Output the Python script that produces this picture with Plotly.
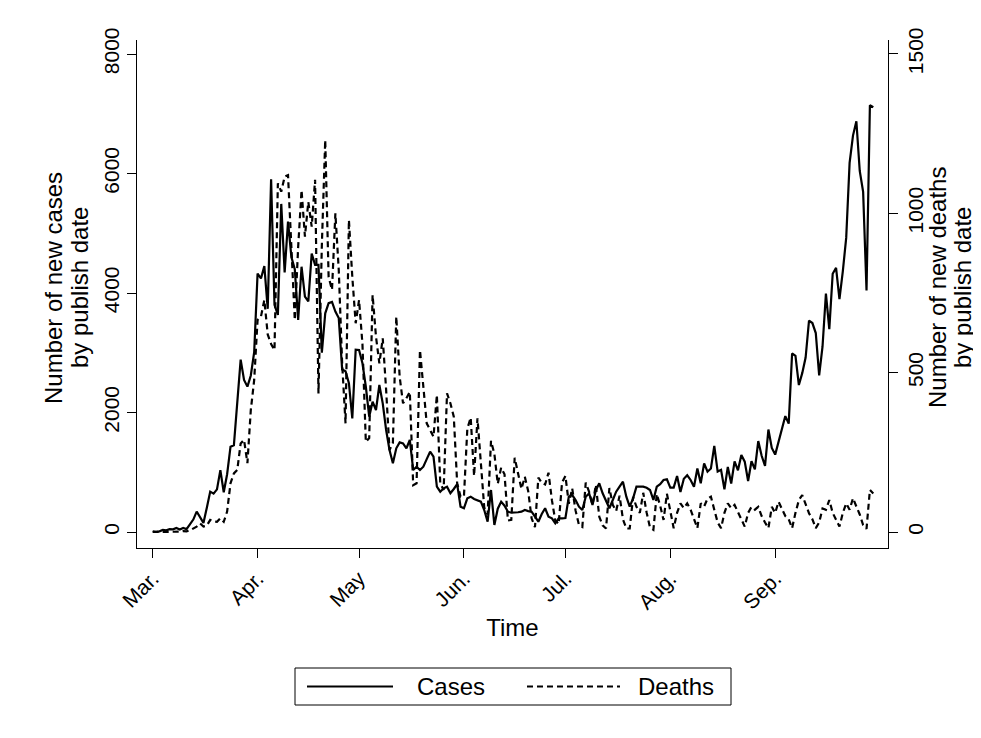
import pandas as pd
import plotly.graph_objects as go

# ---------------- data ----------------
cases_mar = [13, 4, 11, 34, 29, 48, 45, 69, 43, 67, 48, 134, 208, 342, 251, 152, 407, 676, 643, 714,
             1035, 665, 967, 1427, 1452, 2129, 2885, 2546, 2433, 2619, 3009]
cases_apr = [4324, 4244, 4450, 3735, 5903, 3802, 3634, 5491, 4344, 5195, 4600, 4400, 3550, 4440, 3940,
             3860, 4660, 4470, 4470, 3000, 3660, 3830, 3850, 3690, 3580, 2720, 2690, 2490, 1900, 3050]
cases_may = [3046, 2823, 2432, 1930, 2181, 2042, 2460, 2153, 1707, 1372, 1150, 1401, 1500, 1484, 1401,
             1540, 1038, 1093, 1038, 1093, 1220, 1344, 1260, 759, 675, 731, 759, 648, 720, 800, 424]
cases_jun = [397, 563, 591, 552, 530, 508, 368, 172, 703, 117, 390, 508, 440, 340, 323,
             323, 330, 340, 368, 350, 340, 256, 172, 300, 397, 256, 229, 145, 229, 229]
cases_jul = [234, 591, 619, 536, 424, 368, 591, 648, 452, 700, 815, 648, 508, 397, 536,
             675, 760, 842, 591, 424, 564, 759, 760, 759, 740, 703, 536, 759, 800, 870, 882]
cases_aug = [744, 743, 938, 670, 892, 950, 871, 758, 1062, 816, 1148, 1009, 1062, 1441, 1012,
             1040, 713, 1089, 812, 1182, 1033, 1288, 1177, 853, 1184, 1048, 1522, 1276, 1108, 1715, 1406]
cases_sep = [1295, 1508, 1735, 1940, 1813, 2988, 2948, 2460, 2659, 2919, 3539, 3497, 3330, 2621, 3105,
             3991, 3395, 4322, 4422, 3899, 4368, 4926, 6178, 6634, 6874, 6042, 5693, 4044, 7143, 7108]

deaths_mar = [0, 0, 0, 0, 1, 1, 0, 1, 1, 3, 2, 5, 10, 17, 27, 17, 20, 38, 33, 32,
              43, 32, 64, 153, 184, 195, 278, 289, 216, 383, 477]
deaths_apr = [665, 676, 728, 620, 590, 571, 1094, 1068, 1115, 1120, 900, 665, 895, 1073, 927,
              1036, 958, 1105, 435, 900, 1230, 800, 760, 1000, 822, 529, 341, 979, 801, 655]
deaths_may = [728, 590, 283, 295, 744, 613, 529, 608, 446, 257, 280, 676, 487, 404, 420,
              440, 147, 153, 571, 446, 341, 320, 299, 430, 153, 132, 435, 404, 362, 153, 111]
deaths_jun = [111, 324, 359, 176, 357, 204, 77, 55, 286, 245, 151, 202, 181, 36, 38,
              233, 184, 135, 173, 128, 43, 15, 171, 154, 149, 186, 100, 36, 25, 155]
deaths_jul = [176, 89, 137, 67, 22, 16, 155, 126, 85, 148, 48, 21, 11, 138, 85,
              66, 114, 40, 11, 11, 110, 79, 60, 123, 61, 14, 7, 119, 83, 38, 120]
deaths_aug = [65, 12, 60, 90, 75, 90, 70, 40, 12, 90, 80, 105, 111, 70, 30,
              12, 60, 90, 75, 85, 60, 40, 17, 60, 79, 70, 79, 50, 30, 12, 79]
deaths_sep = [60, 95, 70, 50, 40, 12, 60, 100, 116, 90, 59, 40, 12, 30, 74,
              70, 100, 60, 40, 17, 60, 90, 70, 106, 80, 55, 22, 10, 132, 121]

month_ticks = ["2020-03-01", "2020-04-01", "2020-05-01", "2020-06-01",
               "2020-07-01", "2020-08-01", "2020-09-01"]
month_labels = ["Mar.", "Apr.", "May", "Jun.", "Jul.", "Aug.", "Sep."]
cases_ticks = [0, 2000, 4000, 6000, 8000]
deaths_ticks = [0, 500, 1000, 1500]

cases = cases_mar + cases_apr + cases_may + cases_jun + cases_jul + cases_aug + cases_sep
deaths = deaths_mar + deaths_apr + deaths_may + deaths_jun + deaths_jul + deaths_aug + deaths_sep
dates = pd.date_range("2020-03-01", periods=len(cases), freq="D")

FONT = "Liberation Sans, Arial, Helvetica, sans-serif"
TICK_SIZE = 21
TITLE_SIZE = 24
DASH = "6px,4px"

fig = go.Figure()
fig.add_trace(go.Scatter(x=dates, y=cases, mode="lines", name="Cases",
                         line=dict(color="black", width=2.2), yaxis="y", showlegend=False))
fig.add_trace(go.Scatter(x=dates, y=deaths, mode="lines", name="Deaths",
                         line=dict(color="black", width=2.2, dash=DASH), yaxis="y2",
                         showlegend=False))

start = pd.Timestamp("2020-03-01")
x0 = start - pd.Timedelta(hours=4.64 * 24)
x1 = start + pd.Timedelta(hours=217.35 * 24)

axis_common = dict(showgrid=False, zeroline=False, showline=True, linecolor="black", linewidth=1,
                   ticks="outside", ticklen=9, tickcolor="black", tickwidth=1, automargin=False,
                   tickfont=dict(family=FONT, size=TICK_SIZE, color="black"))

# page body adds an 8px offset; plot area sits at screen x 137..888, y 40..548
fig.update_layout(
    width=973, height=722,
    margin=dict(l=129, r=93, t=32, b=182, autoexpand=False),
    paper_bgcolor="white", plot_bgcolor="white",
    font=dict(family=FONT, color="black"),
    xaxis=dict(axis_common, type="date", range=[x0, x1],
               tickvals=month_ticks, ticktext=month_labels, tickangle=-45,
               title=dict(text="Time", font=dict(family=FONT, size=TITLE_SIZE), standoff=6)),
    yaxis=dict(axis_common, range=[-267.8, 8234.3], tickvals=cases_ticks, tickangle=-90),
    yaxis2=dict(axis_common, range=[-50.2, 1543.9], tickvals=deaths_ticks, tickangle=-90,
                overlaying="y", side="right", anchor="x"),
)

# helpers: screen pixel -> paper coordinates of the plot area
W, H, L, T = 751.0, 508.0, 137.0, 40.0
def px(xp):
    return (xp - L) / W
def py(yp):
    return (T + H - yp) / H

# axis titles (two lines each, Stata-like tight spacing)
for text, xs in [("Number of new cases", 53), ("by publish date", 79),
                 ("Number of new deaths", 937), ("by publish date", 962)]:
    fig.add_annotation(text=text, xref="paper", yref="paper", x=px(xs), y=py(288),
                       xanchor="center", yanchor="middle", textangle=-90, showarrow=False,
                       font=dict(family=FONT, size=TITLE_SIZE, color="black"))

# ---- legend drawn as a box with key samples ----
fig.add_shape(type="rect", xref="paper", yref="paper",
              x0=px(295), x1=px(731), y0=py(668), y1=py(705),
              line=dict(color="black", width=1), fillcolor="white")
fig.add_shape(type="line", xref="paper", yref="paper",
              x0=px(307), x1=px(393), y0=py(686.5), y1=py(686.5),
              line=dict(color="black", width=2))
fig.add_shape(type="line", xref="paper", yref="paper",
              x0=px(527), x1=px(620), y0=py(686.5), y1=py(686.5),
              line=dict(color="black", width=2, dash=DASH))
fig.add_annotation(text="Cases", xref="paper", yref="paper", x=px(415), y=py(686.5),
                   xanchor="left", yanchor="middle", showarrow=False,
                   font=dict(family=FONT, size=TITLE_SIZE, color="black"))
fig.add_annotation(text="Deaths", xref="paper", yref="paper", x=px(636), y=py(686.5),
                   xanchor="left", yanchor="middle", showarrow=False,
                   font=dict(family=FONT, size=TITLE_SIZE, color="black"))

fig.write_html("out.html")
